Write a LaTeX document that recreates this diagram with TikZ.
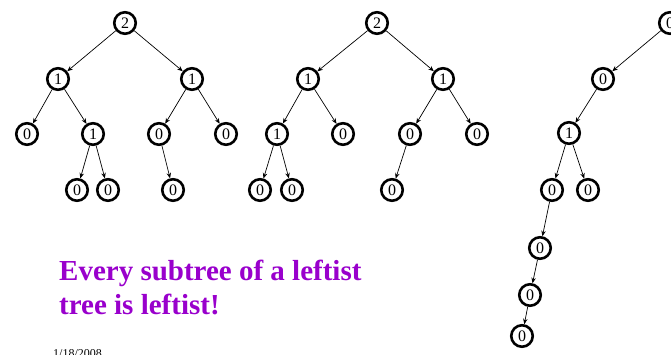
\documentclass[tikz,border=0pt]{standalone}
\usepackage{fontspec}
\setmainfont{Liberation Serif}
\usetikzlibrary{arrows.meta}
\definecolor{msgpurple}{RGB}{153,0,204}
\begin{document}
\begin{tikzpicture}[x=1pt,y=-1pt,
  nd/.style={circle,draw,line width=2.6pt,minimum size=21.5pt,inner sep=0pt,font=\fontsize{16}{16}\selectfont,fill=white},
  ed/.style={-{Stealth[length=5.5pt,width=4.5pt]},line width=0.7pt}]
\useasboundingbox (0,0) rectangle (671,355);
\clip (0,0) rectangle (671,355);
% tree 1
\node[nd] (a0) at (125,23) {2};
\node[nd] (a1) at (58,79) {1};
\node[nd] (a2) at (192,79) {1};
\node[nd] (a3) at (27,134) {0};
\node[nd] (a4) at (93,134) {1};
\node[nd] (a5) at (159,134) {0};
\node[nd] (a6) at (226,134) {0};
\node[nd] (a7) at (77,190) {0};
\node[nd] (a8) at (108,190) {0};
\node[nd] (a9) at (173,190) {0};
\draw[ed] (a0) -- (a1);
\draw[ed] (a0) -- (a2);
\draw[ed] (a1) -- (a3);
\draw[ed] (a1) -- (a4);
\draw[ed] (a2) -- (a5);
\draw[ed] (a2) -- (a6);
\draw[ed] (a4) -- (a7);
\draw[ed] (a4) -- (a8);
\draw[ed] (a5) -- (a9);
% tree 2
\node[nd] (b0) at (377,23) {2};
\node[nd] (b1) at (308,79) {1};
\node[nd] (b2) at (443,79) {1};
\node[nd] (b3) at (277,134) {1};
\node[nd] (b4) at (343,134) {0};
\node[nd] (b5) at (410,134) {0};
\node[nd] (b6) at (477,134) {0};
\node[nd] (b7) at (260,190) {0};
\node[nd] (b8) at (292,190) {0};
\node[nd] (b9) at (392,190) {0};
\draw[ed] (b0) -- (b1);
\draw[ed] (b0) -- (b2);
\draw[ed] (b1) -- (b3);
\draw[ed] (b1) -- (b4);
\draw[ed] (b2) -- (b5);
\draw[ed] (b2) -- (b6);
\draw[ed] (b3) -- (b7);
\draw[ed] (b3) -- (b8);
\draw[ed] (b5) -- (b9);
% tree 3
\node[nd] (c0) at (670,23) {0};
\node[nd] (c1) at (603,79) {0};
\node[nd] (c2) at (569,133) {1};
\node[nd] (c3) at (552,190) {0};
\node[nd] (c4) at (588,190) {0};
\node[nd] (c5) at (540,248) {0};
\node[nd] (c6) at (530,295) {0};
\node[nd] (c7) at (522,336) {0};
\draw[ed] (c0) -- (c1);
\draw[ed] (c1) -- (c2);
\draw[ed] (c2) -- (c3);
\draw[ed] (c2) -- (c4);
\draw[ed] (c3) -- (c5);
\draw[ed] (c5) -- (c6);
\draw[ed] (c6) -- (c7);
% text
\node[anchor=north west,align=left,text=msgpurple,font=\fontsize{29}{34}\selectfont\bfseries,inner sep=0pt] (msg) at (59,260) {Every subtree of a leftist\\tree is leftist!};
\node[anchor=north west,inner sep=0pt,font=\fontsize{12}{12}\selectfont] (date) at (53,349) {1/18/2008};
\end{tikzpicture}
\end{document}
